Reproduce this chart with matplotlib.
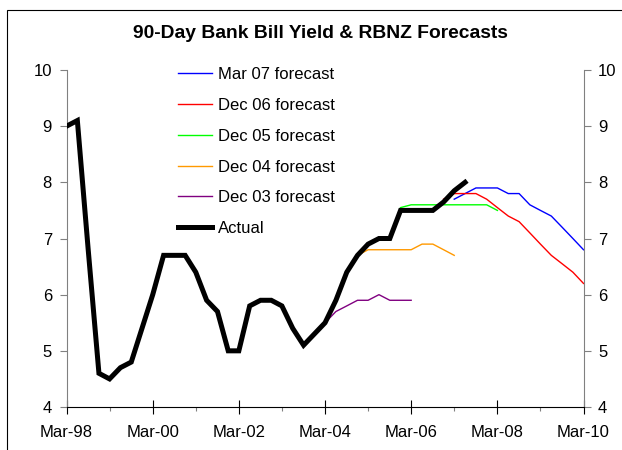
import numpy as np
import pandas as pd
import matplotlib
matplotlib.use('Agg')
import matplotlib.pyplot as plt
from matplotlib.patches import Rectangle

plt.rcParams['font.family'] = ['Liberation Sans', 'DejaVu Sans']

# quarterly data, each series listed from its first quarter
actual_start = '1998-03-01'
actual = [9.0, 9.1, 6.8, 4.6, 4.5, 4.7, 4.8, 5.4, 6.0, 6.7, 6.7, 6.7, 6.4, 5.9,
          5.7, 5.0, 5.0, 5.8, 5.9, 5.9, 5.8, 5.4, 5.1, 5.3, 5.5, 5.9, 6.4, 6.7,
          6.9, 7.0, 7.0, 7.5, 7.5, 7.5, 7.5, 7.65, 7.85, 8.0]

dec03_start = '2004-03-01'
dec03 = [5.5, 5.7, 5.8, 5.9, 5.9, 6.0, 5.9, 5.9, 5.9]

dec04_start = '2004-12-01'
dec04 = [6.7, 6.8, 6.8, 6.8, 6.8, 6.8, 6.9, 6.9, 6.8, 6.7]

dec05_start = '2005-12-01'
dec05 = [7.55, 7.6, 7.6, 7.6, 7.6, 7.6, 7.6, 7.6, 7.6, 7.5]

dec06_start = '2006-12-01'
dec06 = [7.7, 7.8, 7.8, 7.8, 7.7, 7.55, 7.4, 7.3, 7.1, 6.9, 6.7, 6.55, 6.4, 6.2]

mar07_start = '2007-03-01'
mar07 = [7.7, 7.8, 7.9, 7.9, 7.9, 7.8, 7.8, 7.6, 7.5, 7.4, 7.2, 7.0, 6.8]

tick_years = ['1998-03-01', '2000-03-01', '2002-03-01', '2004-03-01',
              '2006-03-01', '2008-03-01', '2010-03-01']
minor_years = ['1999-03-01', '2001-03-01', '2003-03-01', '2005-03-01',
               '2007-03-01', '2009-03-01']


def quarters(start, vals):
    return pd.date_range(start, periods=len(vals), freq='3MS')


fig = plt.figure(figsize=(6.22, 4.5), dpi=100)
ax = fig.add_axes([66.5/622, 1-407/450, (583.5-66.5)/622, (407-70)/450])

ax.plot(quarters(mar07_start, mar07), mar07, color='#0000FF', lw=1.0, label='Mar 07 forecast')
ax.plot(quarters(dec06_start, dec06), dec06, color='#FF0000', lw=1.0, label='Dec 06 forecast')
ax.plot(quarters(dec05_start, dec05), dec05, color='#00FF00', lw=1.0, label='Dec 05 forecast')
ax.plot(quarters(dec04_start, dec04), dec04, color='#FF9900', lw=1.0, label='Dec 04 forecast')
ax.plot(quarters(dec03_start, dec03), dec03, color='#800080', lw=1.0, label='Dec 03 forecast')
ax.plot(quarters(actual_start, actual), actual, color='black', lw=3.6, label='Actual',
        solid_joinstyle='miter', zorder=5)

ax.set_xlim(pd.Timestamp(tick_years[0]), pd.Timestamp(tick_years[-1]))
ax.set_ylim(4, 10)
ax.set_yticks(range(4, 11))

ticks = pd.to_datetime(tick_years)
ax.set_xticks(ticks)
ax.set_xticklabels([t.strftime('%b-%y') for t in ticks])
ax.set_xticks(pd.to_datetime(minor_years), minor=True)

ax.spines['top'].set_visible(False)
ax.spines['left'].set_color('#808080')
ax.spines['right'].set_color('#808080')
ax.spines['bottom'].set_color('black')
ax.tick_params(axis='y', which='both', direction='out', length=5, width=0.8,
               color='#808080', labelsize=12, pad=5.5, left=True, right=True,
               labelleft=True, labelright=True)
ax.tick_params(axis='x', which='major', direction='inout', length=10, width=0.8,
               labelsize=12, pad=8)
ax.tick_params(axis='x', which='minor', direction='out', length=3, width=0.8,
               color='#808080')

ax.legend(loc='upper left', bbox_to_anchor=(178/622, 1-67/450), bbox_transform=fig.transFigure,
          frameon=False, fontsize=12, borderpad=0, borderaxespad=0, handlelength=2.05,
          handletextpad=0.36, labelspacing=0.95)

fig.text(320/622, 1-34/450, '90-Day Bank Bill Yield & RBNZ Forecasts', ha='center', va='center',
         fontsize=13.9, fontweight='bold')

fig.patches.append(Rectangle((7/622, -0.02), 1.0, 1-9.5/450+0.02, transform=fig.transFigure,
                             fill=False, edgecolor='black', lw=0.8))

fig.savefig('out.png', dpi=100)
